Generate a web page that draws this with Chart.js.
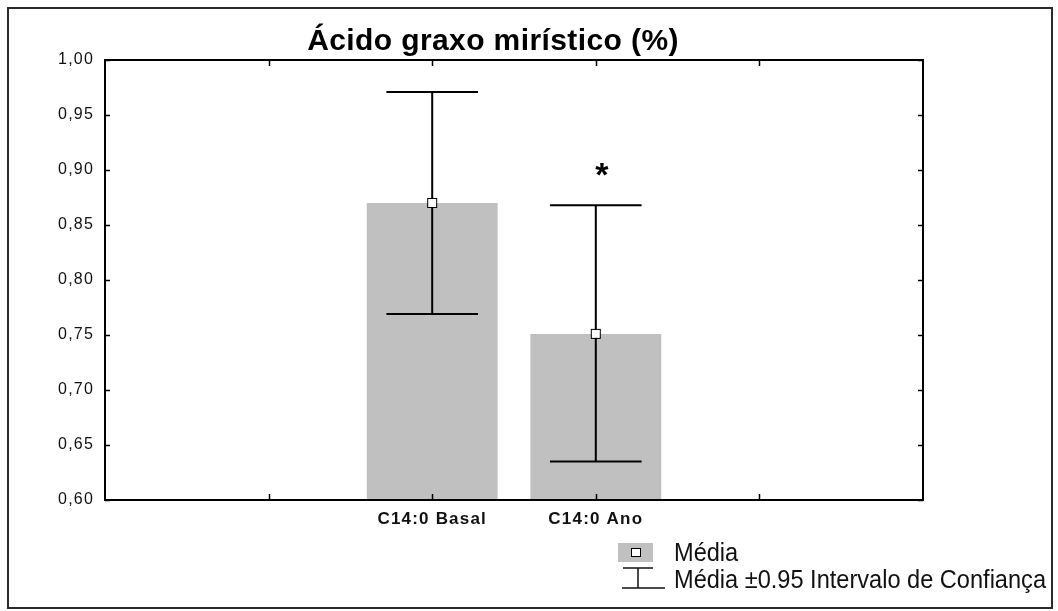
<!DOCTYPE html>
<html>
<head>
<meta charset="utf-8">
<script src="https://cdn.jsdelivr.net/npm/chart.js@4/dist/chart.umd.min.js"></script>
<style>
  html, body { margin: 0; padding: 0; background: #fff; }
  #wrap { position: relative; width: 1058px; height: 611px; overflow: hidden; }
  #frame { position: absolute; left: 7px; top: 7px; width: 1042px; height: 598px; border: 2px solid #2b2b2b; pointer-events: none; }
  #title { position: absolute; left: 0; width: 986px; top: 23px; text-align: center; line-height: 30px;
    font: bold 30px "Liberation Sans", Arial, sans-serif; letter-spacing: 0.4px; color: #000; }
  .leg { position: absolute; left: 674px; font-size: 25px; line-height: 25px; font-family: "Liberation Sans", Arial, sans-serif;
    color: #111; white-space: nowrap; transform-origin: 0 0; }
  #box { position: absolute; left: 618px; top: 543px; width: 35px; height: 19px; background: #c0c0c0; }
  #box i { position: absolute; left: 13px; top: 5px; width: 8px; height: 7px; background: #fff; border: 1px solid #000; }
  canvas { position: absolute; left: 0; top: 0; }
</style>
</head>
<body>
<div id="wrap">
  <canvas id="chart" width="1058" height="611"></canvas>
  <div id="title">Ácido graxo mirístico (%)</div>
  <div id="box"><i></i></div>
  <div class="leg" id="leg1" style="top:540px">Média</div>
  <svg style="position:absolute;left:618px;top:566px" width="50" height="26">
    <line x1="5" y1="2" x2="35" y2="2" stroke="#111" stroke-width="1.5"/>
    <line x1="20" y1="2" x2="20" y2="22" stroke="#111" stroke-width="1.5"/>
    <line x1="4" y1="22" x2="47" y2="22" stroke="#111" stroke-width="1.5"/>
  </svg>
  <div class="leg" id="leg2" style="top:567px">Média ±0.95 Intervalo de Confiança</div>
  <div id="frame"></div>
</div>
<script>
// slots 0..5, the two groups sit on slots 2 and 3
const categories = ['', '', 'C14:0 Basal', 'C14:0 Ano', '', ''];
const means  = [null, null, 0.870, 0.751, null, null];
const ciLow  = [null, null, 0.769, 0.635, null, null];
const ciHigh = [null, null, 0.971, 0.868, null, null];
const starAt = [null, null, null, 0.900, null, null];

// legend font is a condensed face in the original, squeeze ours to the same width
const leg2 = document.getElementById('leg2');
const sx = 372 / leg2.getBoundingClientRect().width;
leg2.style.transform = `scaleX(${sx})`;
document.getElementById('leg1').style.transform = `scaleX(${sx})`;

// error bars, mean markers, asterisk, frame ticks
const overlay = {
  id: 'overlay',
  beforeDraw(chart) {
    chart.ctx.letterSpacing = '1.2px';
  },
  afterDatasetsDraw(chart) {
    const ctx = chart.ctx;
    const x = chart.scales.x, y = chart.scales.y;
    const bars = chart.getDatasetMeta(0).data;
    ctx.save();
    ctx.strokeStyle = '#000';
    ctx.lineWidth = 2;
    means.forEach((m, i) => {
      if (m == null) return;
      const px = x.getPixelForValue(i);
      const half = bars[i].width * 0.35;
      const yl = y.getPixelForValue(ciLow[i]);
      const yh = y.getPixelForValue(ciHigh[i]);
      ctx.beginPath();
      ctx.moveTo(px, yl); ctx.lineTo(px, yh);
      ctx.moveTo(px - half, yl); ctx.lineTo(px + half, yl);
      ctx.moveTo(px - half, yh); ctx.lineTo(px + half, yh);
      ctx.stroke();
      const ym = y.getPixelForValue(m);
      ctx.fillStyle = '#fff';
      ctx.lineWidth = 1;
      ctx.fillRect(px - 4, ym - 4, 8, 8);
      ctx.strokeRect(px - 4.5, ym - 4.5, 9, 9);
      ctx.lineWidth = 2;
    });
    ctx.fillStyle = '#000';
    ctx.letterSpacing = '0px';
    ctx.font = 'bold 34px "Liberation Sans", Arial, sans-serif';
    ctx.textAlign = 'center';
    ctx.textBaseline = 'alphabetic';
    starAt.forEach((v, i) => {
      if (v == null) return;
      ctx.fillText('*', x.getPixelForValue(i) + 6, y.getPixelForValue(v) + 16);
    });
    ctx.restore();
  },
  afterDraw(chart) {
    const ctx = chart.ctx;
    const a = chart.chartArea;
    const x = chart.scales.x, y = chart.scales.y;
    ctx.save();
    ctx.strokeStyle = '#000';
    ctx.lineWidth = 2;
    ctx.strokeRect(a.left, a.top, a.right - a.left, a.bottom - a.top);
    ctx.beginPath();
    for (let i = 1; i < categories.length - 1; i++) {
      const px = Math.round(x.getPixelForValue(i)) + 0.5;
      ctx.moveTo(px, a.bottom); ctx.lineTo(px, a.bottom - 6);
      ctx.moveTo(px, a.top); ctx.lineTo(px, a.top + 6);
    }
    y.ticks.forEach(t => {
      const py = Math.round(y.getPixelForValue(t.value)) + 0.5;
      ctx.moveTo(a.left, py); ctx.lineTo(a.left + 5, py);
      ctx.moveTo(a.right, py); ctx.lineTo(a.right - 5, py);
    });
    ctx.lineWidth = 1.5;
    ctx.stroke();
    ctx.restore();
  }
};

new Chart(document.getElementById('chart'), {
  type: 'bar',
  data: {
    labels: categories,
    datasets: [{
      data: means,
      backgroundColor: '#c0c0c0',
      borderWidth: 0,
      categoryPercentage: 1,
      barPercentage: 0.8
    }]
  },
  options: {
    responsive: false,
    animation: false,
    events: [],
    layout: { padding: { top: 60, right: 135, bottom: 0, left: 0 } },
    plugins: { legend: { display: false }, title: { display: false }, tooltip: { enabled: false } },
    scales: {
      x: {
        offset: false,
        grid: { display: false, drawTicks: false },
        border: { display: false },
        ticks: { color: '#111', padding: 9, maxRotation: 0, autoSkip: false,
          font: { family: '"Liberation Sans", Arial, sans-serif', size: 17, weight: 'bold' } },
        afterFit(s) { s.height = 111; }
      },
      y: {
        min: 0.6, max: 1.0,
        grid: { display: false, drawTicks: false },
        border: { display: false },
        ticks: { stepSize: 0.05, color: '#111', padding: 11,
          font: { family: '"Liberation Sans", Arial, sans-serif', size: 16 },
          callback: v => v.toFixed(2).replace('.', ',') },
        afterFit(s) { s.width = 105; }
      }
    }
  },
  plugins: [overlay]
});
</script>
</body>
</html>
